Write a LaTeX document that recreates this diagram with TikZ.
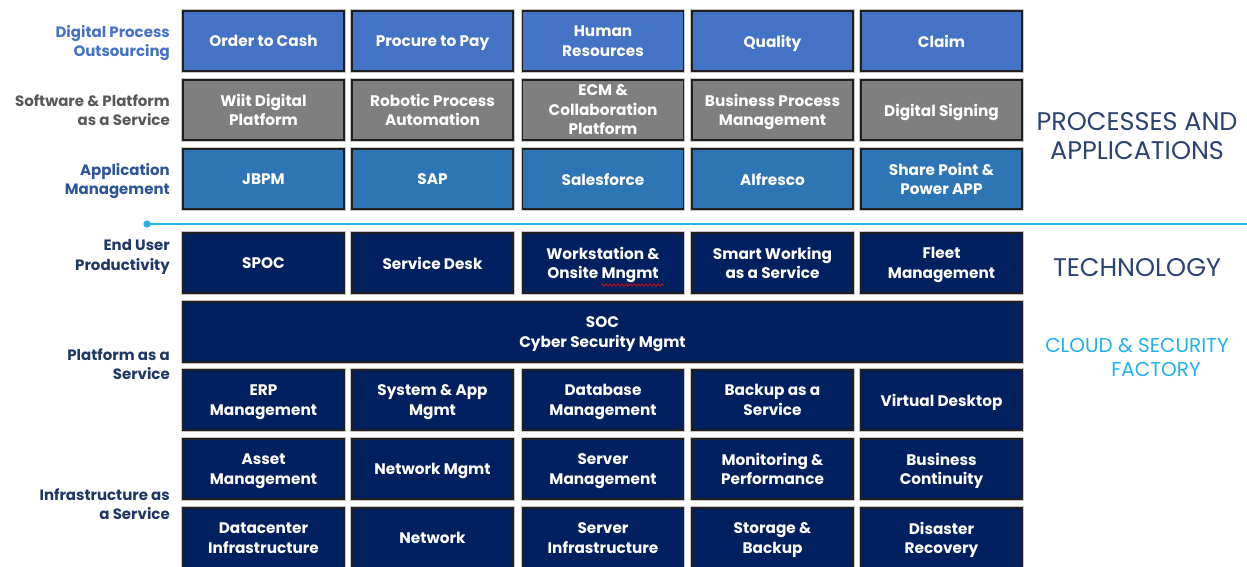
\documentclass[tikz,border=0pt]{standalone}
\usepackage{fontspec}
\setmainfont{Poppins}
\usetikzlibrary{decorations.pathmorphing}
\definecolor{dpoblue}{HTML}{4472C4}
\definecolor{spgray}{HTML}{7F7F7F}
\definecolor{amblue}{HTML}{2E75B6}
\definecolor{navy}{HTML}{002060}
\definecolor{lblgray}{HTML}{595959}
\definecolor{lblblue}{HTML}{2F5597}
\definecolor{lblnavy}{HTML}{1F3864}
\definecolor{cyanline}{HTML}{1FB2EE}
\definecolor{headnavy}{HTML}{2A4373}
\tikzset{
  box/.style={rectangle, minimum width=161pt, minimum height=60pt, inner sep=2pt,
    align=center, text=white, font=\fontsize{15.3}{19.5}\selectfont\bfseries,
    draw=black!88, line width=1.4pt,
    text depth=0pt,
    execute at begin node={\vphantom{A}},
    preaction={draw=black!22, line width=3.6pt}},
  dpo/.style={box, fill=dpoblue},
  sp/.style={box, fill=spgray},
  am/.style={box, fill=amblue},
  tech/.style={box, fill=navy},
  lbl/.style={align=right, anchor=east, font=\fontsize{15}{19.5}\selectfont\bfseries, inner sep=0pt,
    text depth=0pt,
    execute at begin node={\vphantom{A}}},
  head/.style={align=center, font=\fontsize{25.5}{29}\selectfont, text=headnavy, inner sep=0pt},
  divider/.style={draw=cyanline, line width=1.6pt},
}
\begin{document}
\begin{tikzpicture}[x=1pt,y=-1pt]
\useasboundingbox[fill=white] (0,0) rectangle (1247,566);
\begin{scope}
\clip (0,0) rectangle (1247,566);
% row 1
\node[dpo] (r1c1) at (263.5,41) {Order to Cash};
\node[dpo] (r1c2) at (432.5,41) {Procure to Pay};
\node[dpo] (r1c3) at (603,41) {Human\\Resources};
\node[dpo] (r1c4) at (772.5,41) {Quality};
\node[dpo] (r1c5) at (941.5,41) {Claim};
% row 2
\node[sp] (r2c1) at (263.5,110) {Wiit Digital\\Platform};
\node[sp] (r2c2) at (432.5,110) {Robotic Process\\Automation};
\node[sp] (r2c3) at (603,110) {ECM \&\\Collaboration\\Platform};
\node[sp] (r2c4) at (772.5,110) {Business Process\\Management};
\node[sp] (r2c5) at (941.5,110) {Digital Signing};
% row 3
\node[am] (r3c1) at (263.5,179) {JBPM};
\node[am] (r3c2) at (432.5,179) {SAP};
\node[am] (r3c3) at (603,179) {Salesforce};
\node[am] (r3c4) at (772.5,179) {Alfresco};
\node[am] (r3c5) at (941.5,179) {Share Point \&\\Power APP};
% row 4
\node[tech] (r4c1) at (263.5,263) {SPOC};
\node[tech] (r4c2) at (432.5,263) {Service Desk};
\node[tech] (r4c3) at (603,263) {Workstation \&\\Onsite Mngmt};
\node[tech] (r4c4) at (772.5,263) {Smart Working\\as a Service};
\node[tech] (r4c5) at (941.5,263) {Fleet\\Management};
% row 5
\node[tech, minimum width=839pt] (soc) at (602.5,332) {SOC\\Cyber Security Mgmt};
% row 6
\node[tech] (r6c1) at (263.5,400) {ERP\\Management};
\node[tech] (r6c2) at (432.5,400) {System \& App\\Mgmt};
\node[tech] (r6c3) at (603,400) {Database\\Management};
\node[tech] (r6c4) at (772.5,400) {Backup as a\\Service};
\node[tech] (r6c5) at (941.5,400) {Virtual Desktop};
% row 7
\node[tech] (r7c1) at (263.5,469) {Asset\\Management};
\node[tech] (r7c2) at (432.5,469) {Network Mgmt};
\node[tech] (r7c3) at (603,469) {Server\\Management};
\node[tech] (r7c4) at (772.5,469) {Monitoring \&\\Performance};
\node[tech] (r7c5) at (941.5,469) {Business\\Continuity};
% row 8
\node[tech] (r8c1) at (263.5,538) {Datacenter\\Infrastructure};
\node[tech] (r8c2) at (432.5,538) {Network};
\node[tech] (r8c3) at (603,538) {Server\\Infrastructure};
\node[tech] (r8c4) at (772.5,538) {Storage \&\\Backup};
\node[tech] (r8c5) at (941.5,538) {Disaster\\Recovery};
\end{scope}
% spell-check squiggle
\coordinate (sqA) at (601,285);
\coordinate (sqB) at (664,285);
\draw[red, line width=0.7pt, decorate, decoration={snake, amplitude=1.1pt, segment length=4pt}] (sqA) -- (sqB);
% left labels
\node[lbl, text=dpoblue] (l1) at (170,41) {Digital Process\\Outsourcing};
\node[lbl, text=lblgray] (l2) at (170,110) {Software \& Platform\\as a Service};
\node[lbl, text=lblblue] (l3) at (170,179) {Application\\Management};
\node[lbl, text=lblnavy] (l4) at (170,255) {End User\\Productivity};
\node[lbl, text=lblnavy] (l5) at (170,364) {Platform as a\\Service};
\node[lbl, text=lblnavy] (l6) at (170,504) {Infrastructure as\\a Service};
% divider
\coordinate (divL) at (147,224);
\coordinate (divR) at (1247,224);
\draw[divider] (divL) -- (divR);
\fill[cyanline] (divL) circle (3.6pt);
% right headings
\node[head] (h1) at (1137,136) {PROCESSES AND\\APPLICATIONS};
\node[head] (h2) at (1137,268) {TECHNOLOGY};
\node[head, text=cyanline, font=\fontsize{20}{24}\selectfont, align=left] (h3) at (1137,357) {CLOUD \& SECURITY\\\hspace*{66pt}FACTORY};
\end{tikzpicture}
\end{document}
